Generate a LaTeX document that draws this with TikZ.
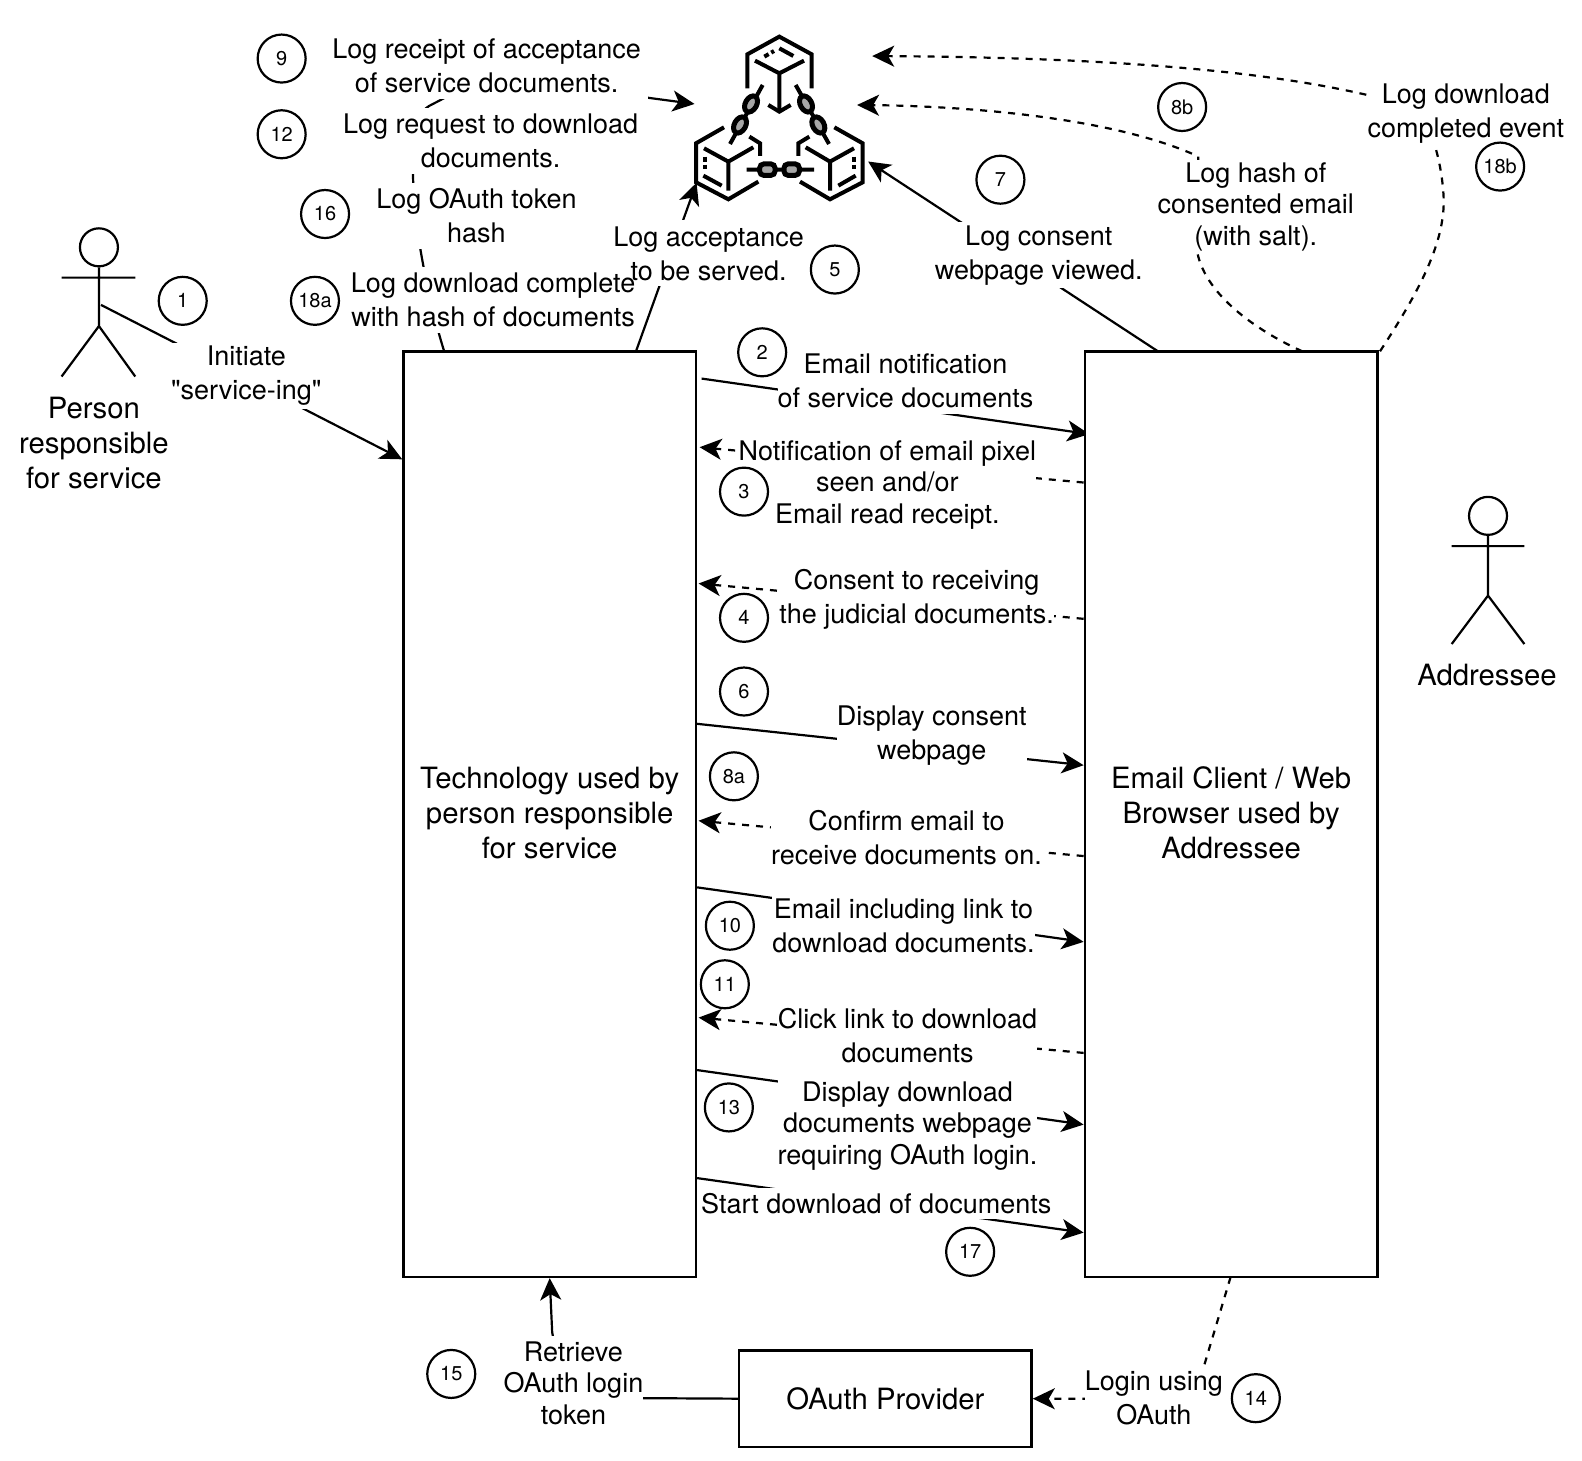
\documentclass[tikz,border=0pt]{standalone}
\usepackage{fontspec}
\setmainfont{TeX Gyre Heros}
\newfontfamily\plainquotes{TeX Gyre Heros}
\usetikzlibrary{arrows.meta}
\pgfdeclarelayer{bg}
\pgfsetlayers{bg,main}
\tikzset{
  boxn/.style={draw=black,line width=2.4pt,fill=white,inner sep=0pt,align=center,font=\fontsize{29.3}{35}\selectfont},
  lbl/.style={fill=white,inner xsep=0pt,inner ysep=0pt,minimum height=66pt,align=center,font=\fontsize{27}{34}\selectfont},
  lblc/.style={lbl,minimum height=94pt,font=\fontsize{27}{31.5}\selectfont},
  num/.style={draw=black,circle,line width=2.2pt,fill=white,minimum size=48pt,inner sep=0pt,font=\fontsize{20}{24}\selectfont},
  actorname/.style={inner sep=0pt,align=center,font=\fontsize{29.3}{35}\selectfont},
  actorline/.style={line width=2.2pt,draw=black},
  conn/.style={line width=2.2pt,draw=black,-{Stealth[length=22pt,width=21pt,inset=6pt]}},
  dconn/.style={conn,dash pattern=on 7pt off 7pt},
  iconline/.style={line width=4pt,draw=black,line join=miter},
  linkline/.style={line width=5pt,draw=black,fill=black!35},
}
\begin{document}
\begin{tikzpicture}[x=1.0095pt,y=-1.0095pt]
\useasboundingbox (0,0) rectangle (1567.1,1446.3);

% main boxes
\node[boxn,minimum width=292.5pt,minimum height=925.5pt] (tech) at (544.5,806.5) {\raisebox{-9pt}[0pt][0pt]{\begin{tabular}{@{}c@{}}Technology used by\\person responsible\\for service\end{tabular}}};
\node[boxn,minimum width=292.5pt,minimum height=925.5pt] (mail) at (1219.5,806.5) {\raisebox{-9pt}[0pt][0pt]{\begin{tabular}{@{}c@{}}Email Client / Web\\Browser used by\\Addressee\end{tabular}}};
\node[boxn,minimum width=292.5pt,minimum height=96.5pt] (oauth) at (877,1385.5) {OAuth Provider};

% actors
\node[draw=black,circle,line width=2.2pt,minimum size=38pt,inner sep=0pt] (head1) at (98,245) {};
\coordinate (neck1) at (head1.south);
\coordinate (hip1) at (98,323);
\coordinate (waist1) at (100,302);
\draw[actorline] (neck1) -- (hip1) -- (61,373) (hip1) -- (134,373) (61,275) -- (134,275);
\node[actorname] (person) at (93,439) {Person\\responsible\\for service};
\node[draw=black,circle,line width=2.2pt,minimum size=38pt,inner sep=0pt] (head2) at (1474,511) {};
\coordinate (neck2) at (head2.south);
\coordinate (hip2) at (1474,590);
\draw[actorline] (neck2) -- (hip2) -- (1438,638) (hip2) -- (1510,638) (1438,541) -- (1510,541);
\node[actorname] (addr) at (1473,669) {Addressee};

% blockchain icon, in zoom-crop units
\begin{scope}[shift={(643.9,19.8)},x=0.3333pt,y=-0.3333pt]
  \draw[iconline] (292,205) -- (292,103) -- (388,50) -- (485,103) -- (485,205);
  \draw[iconline] (315,122) -- (388,160) -- (462,122) (388,160) -- (388,272);
  \draw[iconline] (355,255) -- (388,275) -- (422,255);
  \draw[iconline] (388,85) -- (430,108);
  \draw[iconline,dash pattern=on 5pt off 3pt] (343,110) -- (372,93);
  \draw[iconline] (222,322) -- (138,370) -- (138,487) -- (235,538) -- (325,485);
  \draw[iconline] (162,385) -- (235,425) -- (310,382) (235,425) -- (235,512);
  \draw[iconline] (160,467) -- (215,497);
  \draw[iconline,dash pattern=on 5pt off 3pt] (165,410) -- (165,448);
  \draw[iconline] (298,350) -- (330,370) -- (330,408);
  \draw[iconline] (553,322) -- (638,370) -- (638,487) -- (540,538) -- (450,485);
  \draw[iconline] (467,382) -- (540,425) -- (612,385) (540,425) -- (540,512);
  \draw[iconline] (565,497) -- (617,467);
  \draw[iconline,dash pattern=on 5pt off 3pt] (612,410) -- (612,448);
  \draw[iconline] (478,350) -- (445,370) -- (445,408);
  % chains
  \draw[iconline] (338,195) -- (240,372) (437,195) -- (537,372) (290,449) -- (492,449);
  \foreach \cx/\cy/\rot in {303/252/-29,270/315/-29,468/252/29,505/315/29}{
    \draw[linkline,rotate around={\rot:(\cx,\cy)}] (\cx,\cy) ellipse (17 and 26);
  }
  \foreach \cx in {352,425}{
    \draw[linkline,rounded corners=4pt] (\cx-23,432) rectangle (\cx+23,466);
  }
\end{scope}
\coordinate (iconA) at (864,55.5);
\coordinate (iconB) at (849,104);
\coordinate (iconC) at (860,160);
\coordinate (iconD) at (690,181);
\coordinate (iconE) at (688,103);

% labels (order matters where the white backings touch)
\node[lbl] (l5) at (702,251) {Log acceptance\\to be served.};
\node[lbl,minimum width=322pt] (l9) at (482,65) {Log receipt of acceptance\\of service documents.};
\node[lbl] (l12) at (486,140) {Log request to download\\documents.};
\node[lbl] (l16) at (472,214) {Log OAuth token\\hash};
\node[lbl,inner xsep=-5pt] (l18a) at (488.5,297) {Log download complete\\with hash of documents};
\node[lbl] (l7) at (1029,253) {Log consent\\webpage viewed.};
\node[lblc] (l8b) at (1244,205) {Log hash of\\consented email\\(with salt).};
\node[lbl] (l18b) at (1452,112.5) {Log download\\completed event};
\node[lbl] (l1) at (244,372) {Initiate\\{\plainquotes"service-ing"}};
\node[lbl] (l2) at (897,377) {Email notification\\of service documents};
\node[lblc] (l3) at (879,480) {Notification of email pixel\\seen and/or\\Email read receipt.};
\node[lbl] (l4) at (908,594) {Consent to receiving\\the judicial documents.};
\node[lbl] (l6) at (923,729) {Display consent\\webpage};
\node[lbl] (l8a) at (898,830) {Confirm email to\\receive documents on.};
\node[lbl] (l10) at (895,917) {Email including link to\\download documents.};
\node[lbl] (l11) at (899,1026) {Click link to download\\documents};
\node[lblc] (l13) at (899,1115) {Display download\\documents webpage\\requiring OAuth login.};
\node[lbl,minimum height=31pt] (l17) at (868,1192.5) {Start download of documents};
\node[lblc] (l15) at (568,1370) {Retrieve\\OAuth login\\token};
\node[lbl] (l14) at (1143,1384.5) {Login using\\OAuth};

% step numbers
\node[num] (n1) at (181,298) {1};
\node[num] (n2) at (755,349) {2};
\node[num] (n3) at (737,487) {3};
\node[num] (n4) at (737,612) {4};
\node[num] (n5) at (827,267) {5};
\node[num] (n6) at (737,685) {6};
\node[num] (n7) at (991,178) {7};
\node[num] (n8a) at (727,769) {8a};
\node[num] (n8b) at (1171,106) {8b};
\node[num] (n9) at (279,58) {9};
\node[num] (n10) at (723,917) {10};
\node[num] (n11) at (718,975) {11};
\node[num] (n12) at (279,133) {12};
\node[num] (n13) at (722,1097) {13};
\node[num] (n14) at (1244,1385) {14};
\node[num] (n15) at (447,1361) {15};
\node[num] (n16) at (322,212) {16};
\node[num] (n17) at (961,1240) {17};
\node[num] (n18a) at (312,298) {18a};
\node[num] (n18b) at (1486,165) {18b};

% connector ends on the boxes
\coordinate (t1) at (tech.west |- 0,455);
\coordinate (t2) at (695,375);
\coordinate (m2) at (1079,430);
\coordinate (m3) at (mail.west |- 0,478);
\coordinate (t3) at (693,443);
\coordinate (m4) at (mail.west |- 0,613);
\coordinate (t4) at (692,578);
\coordinate (t6) at (tech.east |- 0,717);
\coordinate (m6) at (mail.west |- 0,758);
\coordinate (m8) at (mail.west |- 0,848);
\coordinate (t8) at (692,813);
\coordinate (t10) at (tech.east |- 0,879);
\coordinate (m10) at (mail.west |- 0,933);
\coordinate (m11) at (mail.west |- 0,1043);
\coordinate (t11) at (692,1008);
\coordinate (t13) at (tech.east |- 0,1060);
\coordinate (m13) at (mail.west |- 0,1114);
\coordinate (t17) at (tech.east |- 0,1167);
\coordinate (m17) at (mail.west |- 0,1221);
\coordinate (tTopA) at (440,348);
\coordinate (tTopB) at (630,348);
\coordinate (mTopA) at (1147,348);
\coordinate (mTopB) at (1290,348);
\coordinate (mTopC) at (1367,348);
\coordinate (mBot) at (1219,1265);

\begin{pgfonlayer}{bg}
  \draw[conn] (waist1) -- (t1);
  \draw[conn] (t2) -- (m2);
  \draw[dconn] (m3) -- (t3);
  \draw[dconn] (m4) -- (t4);
  \draw[conn] (t6) -- (m6);
  \draw[dconn] (m8) -- (t8);
  \draw[conn] (t10) -- (m10);
  \draw[dconn] (m11) -- (t11);
  \draw[conn] (t13) -- (m13);
  \draw[conn] (t17) -- (m17);
  \draw[conn] (tTopB) -- (iconD);
  \draw[conn] (mTopA) -- (iconC);
  \draw[conn] (tTopA) .. controls (428,310) and (415,250) .. (410,200)
     -- (409,172) .. controls (409,140) and (405,118) .. (425,105)
     -- (450,92) -- (600,90) -- (643,97) -- (iconE);
  \draw[dconn] (mTopB) .. controls (1250,330) and (1195,295) .. (1186,250)
     -- (1187,155) .. controls (1100,115) and (950,105) .. (iconB);
  \draw[dconn] (mTopC) .. controls (1405,290) and (1432,240) .. (1430,195)
     .. controls (1429,175) and (1425,155) .. (1420,140)
     -- (1354,94) .. controls (1250,70) and (1100,57) .. (iconA);
  \draw[dconn] (mBot) -- (1193,1352) -- (1190,1386) -- (oauth.east);
  \draw[conn] (oauth.west) -- (640,1385) -- (560,1385) -- (547,1320) -- (tech.south);
\end{pgfonlayer}
\end{tikzpicture}
\end{document}
